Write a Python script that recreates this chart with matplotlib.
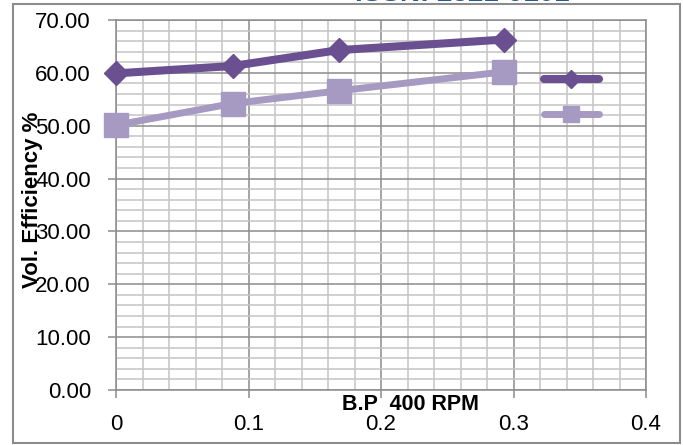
import matplotlib
matplotlib.use("Agg")
import matplotlib.pyplot as plt
from matplotlib.ticker import MultipleLocator, FormatStrFormatter
from matplotlib.patches import Rectangle
from matplotlib.transforms import blended_transform_factory

# Data
bp = [0.0, 0.088, 0.168, 0.293]
series_a = [59.9, 61.3, 64.3, 66.3]
series_b = [50.1, 54.2, 56.6, 60.2]
x_ticks = [0, 0.1, 0.2, 0.3, 0.4]
x_ticklabels = ["0", "0.1", "0.2", "0.3", "0.4"]
x_label = "B.P  400 RPM"
y_label = "Vol. Efficiency %"
header = "ISSN: 2321-9101"

dark = "#6A5090"
light = "#A69AC3"
major_c = "#8C8C8C"
minor_c = "#C4C4C4"

plt.rcParams['font.family'] = ['Liberation Sans', 'DejaVu Sans']

fig = plt.figure(figsize=(6.83, 4.45), dpi=100)
ax = fig.add_axes([116/683, 55/445, 530/683, 370/445])

ax.set_xlim(0, 0.4)
ax.set_ylim(0, 70)

ax.xaxis.set_major_locator(MultipleLocator(0.1))
ax.xaxis.set_minor_locator(MultipleLocator(0.02))
ax.yaxis.set_major_locator(MultipleLocator(10))
ax.yaxis.set_minor_locator(MultipleLocator(2))
ax.set_xticks(x_ticks)
ax.set_xticklabels(x_ticklabels)
ax.yaxis.set_major_formatter(FormatStrFormatter('%.2f'))

ax.grid(which='minor', color=minor_c, lw=1.1, zorder=0)
ax.grid(which='major', color=major_c, lw=1.1, zorder=0)
ax.set_axisbelow(True)

for s in ax.spines.values():
    s.set_color(major_c)
    s.set_linewidth(1.1)

ax.tick_params(which='major', direction='out', length=6, width=1.1, color=major_c,
               labelsize=16)
ax.tick_params(axis='y', which='major', pad=12)
ax.tick_params(axis='x', which='major', pad=11)
ax.tick_params(which='minor', length=0)

l1, = ax.plot(bp, series_a, color=dark, lw=5.8, marker='D', markersize=12.5,
              markeredgecolor=dark, solid_capstyle='round', clip_on=False, zorder=3)
l2, = ax.plot(bp, series_b, color=light, lw=5.0, marker='s', markersize=17,
              markeredgecolor=light, solid_capstyle='round', clip_on=False, zorder=3)

leg = ax.legend([l1, l2], [" ", " "], loc='upper left', bbox_to_anchor=(0.775, 0.905),
                frameon=False, fontsize=14, handlelength=2.8, labelspacing=0.85,
                markerscale=0.7, handletextpad=0.2)

trans = blended_transform_factory(ax.transData, ax.transAxes)
ax.text(0.222, -0.038, x_label, transform=trans, ha='center', va='center',
        fontsize=15.5, fontweight='bold')
fig.text(0.048, 0.55, y_label, rotation=90, ha='center', va='center',
         fontsize=16, fontweight='bold')

fig.text(0.677, 1 - 1/445, header, ha='center', va='baseline', fontsize=20,
         fontweight='bold', color='#2B5A8C')

fig.patches.append(Rectangle((13/683, 2/445), 667/683, 439/445, transform=fig.transFigure,
                             fill=False, edgecolor='#8C8C8C', lw=1.5))

fig.savefig("out.png", dpi=100)
